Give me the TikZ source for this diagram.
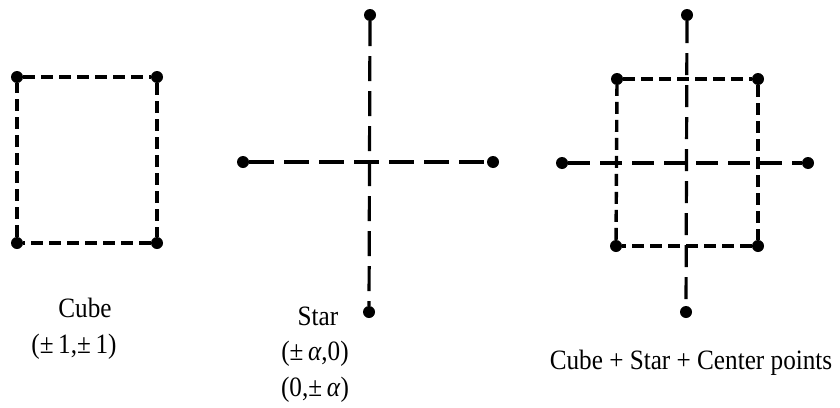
\documentclass[tikz,border=0pt]{standalone}
\usepackage{fontspec}
\setmainfont{Liberation Serif}[FakeStretch=0.9]
\begin{document}
\begin{tikzpicture}[x=1pt,y=-1pt,
  dot/.style={circle,fill=black,inner sep=0pt,minimum size=12pt},
  cubeline/.style={line width=3.4pt,dash pattern=on 12pt off 6pt},
  starline/.style={line width=3.2pt,dash pattern=on 25pt off 10pt},
  lbl/.style={anchor=base,inner sep=0pt,font=\fontsize{28}{32}\selectfont}]
\useasboundingbox (0,0) rectangle (840,407);
% Cube
\node[dot] (a1) at (17,77) {};
\node[dot] (a2) at (157,77) {};
\node[dot] (a3) at (157,243) {};
\node[dot] (a4) at (17,243) {};
\draw[cubeline] (a1) -- (a2);
\draw[cubeline] (a2) -- (a3);
\draw[cubeline] (a3) -- (a4);
\draw[cubeline] (a4) -- (a1);
\node[lbl] (t1) at (85,317) {Cube};
\node[lbl] (t2) at (74,353) {(±\,1,±\,1)};
% Star
\node[dot] (s1) at (370,15) {};
\node[dot] (s2) at (369,312) {};
\node[dot] (s3) at (243,162) {};
\node[dot] (s4) at (493,162) {};
\draw[starline] (s1) -- (s2);
\draw[starline] (s3) -- (s4);
\node[lbl] (t3) at (318,325) {Star};
\node[lbl] (t4) at (315,360) {(±\,\textit{α},0)};
\node[lbl] (t5) at (315,396) {(0,±\,\textit{α})};
% Combined
\node[dot] (b1) at (617,79) {};
\node[dot] (b2) at (758,79) {};
\node[dot] (b3) at (758,246) {};
\node[dot] (b4) at (616,246) {};
\draw[cubeline] (b1) -- (b2);
\draw[cubeline] (b2) -- (b3);
\draw[cubeline] (b3) -- (b4);
\draw[cubeline] (b4) -- (b1);
\node[dot] (c1) at (687,15) {};
\node[dot] (c2) at (686,312) {};
\node[dot] (c3) at (562,163) {};
\node[dot] (c4) at (808,163) {};
\draw[starline,dash pattern=on 22pt off 10pt] (c1) -- (c2);
\draw[starline,dash pattern=on 22pt off 10pt] (c3) -- (c4);
\node[lbl] (t6) at (691,369) {Cube + Star + Center points};
\end{tikzpicture}
\end{document}
